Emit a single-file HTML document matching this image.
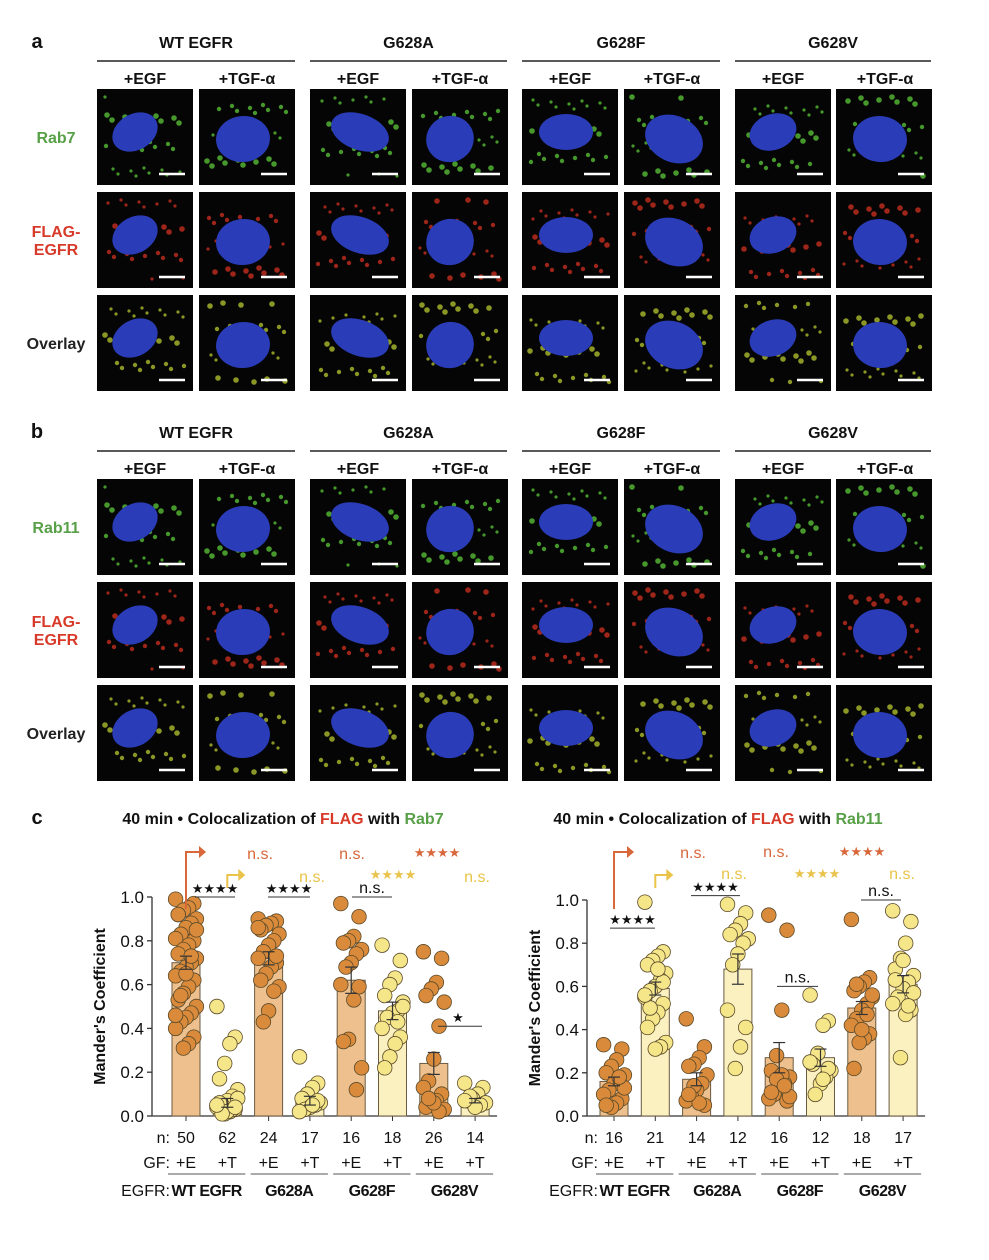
<!DOCTYPE html>
<html><head><meta charset="utf-8"><style>
body{margin:0;background:#fff;font-family:"Liberation Sans",Arial,sans-serif;}
#root{position:relative;width:989px;height:1260px;overflow:hidden;}
</style></head><body>
<div id="root">
<svg id="svg" width="989" height="1260" xmlns="http://www.w3.org/2000/svg" font-family="Liberation Sans, Arial, sans-serif"></svg>
</div>
<script>
// ---- chart data ----
const groups = ["WT EGFR","G628A","G628F","G628V"];
const gfLabels = ["+E","+T","+E","+T","+E","+T","+E","+T"];
const yTicks = [0.0,0.2,0.4,0.6,0.8,1.0];
const nRab7 = [50,62,24,17,16,18,26,14];
const meanRab7 = [0.70,0.06,0.72,0.07,0.62,0.48,0.24,0.07];
const semRab7 = [0.03,0.02,0.03,0.02,0.06,0.04,0.05,0.01];
const ptsRab7 = [
 [0.99,0.97,0.95,0.94,0.92,0.90,0.88,0.86,0.83,0.81,0.80,0.78,0.76,0.74,0.72,0.70,0.68,0.66,0.64,0.62,0.59,0.56,0.53,0.50,0.47,0.45,0.43,0.40,0.36,0.33,0.31,0.92,0.85,0.73,0.65,0.55,0.46],
 [0.50,0.36,0.33,0.24,0.17,0.12,0.09,0.07,0.05,0.04,0.03,0.02,0.01,0.06,0.08,0.03,0.02,0.01,0.05,0.04],
 [0.90,0.89,0.88,0.87,0.85,0.83,0.80,0.78,0.75,0.72,0.70,0.68,0.65,0.62,0.59,0.57,0.48,0.43,0.86,0.73],
 [0.27,0.15,0.13,0.10,0.08,0.06,0.05,0.04,0.03,0.02,0.07,0.05],
 [0.97,0.91,0.82,0.80,0.79,0.76,0.74,0.70,0.68,0.60,0.59,0.53,0.35,0.34,0.22,0.12],
 [0.78,0.71,0.63,0.60,0.55,0.52,0.48,0.47,0.45,0.40,0.36,0.33,0.27,0.22,0.50,0.43],
 [0.75,0.72,0.61,0.58,0.55,0.52,0.41,0.26,0.16,0.13,0.10,0.07,0.05,0.04,0.03,0.02,0.06,0.08],
 [0.15,0.13,0.10,0.08,0.07,0.06,0.05,0.04,0.09,0.07]
];
const nRab11 = [16,21,14,12,16,12,18,17];
const meanRab11 = [0.16,0.59,0.17,0.68,0.27,0.27,0.50,0.61];
const semRab11 = [0.02,0.03,0.03,0.07,0.07,0.04,0.03,0.04];
const ptsRab11 = [
 [0.33,0.31,0.26,0.23,0.20,0.19,0.16,0.15,0.12,0.10,0.08,0.06,0.04,0.05,0.13,0.18],
 [0.99,0.76,0.74,0.72,0.70,0.66,0.63,0.60,0.58,0.55,0.52,0.48,0.45,0.41,0.34,0.32,0.31,0.50,0.56,0.62,0.68],
 [0.45,0.32,0.27,0.24,0.23,0.19,0.15,0.12,0.09,0.07,0.05,0.06,0.14,0.10],
 [0.98,0.94,0.89,0.86,0.84,0.82,0.80,0.75,0.70,0.49,0.41,0.32,0.22],
 [0.93,0.86,0.49,0.28,0.21,0.18,0.15,0.13,0.10,0.08,0.07,0.19,0.17,0.11,0.09,0.14],
 [0.56,0.44,0.42,0.29,0.24,0.21,0.18,0.15,0.10,0.25,0.22,0.17],
 [0.91,0.64,0.62,0.60,0.58,0.55,0.52,0.49,0.45,0.42,0.38,0.36,0.34,0.22,0.56,0.47,0.40,0.61],
 [0.95,0.90,0.80,0.73,0.68,0.65,0.62,0.59,0.55,0.52,0.49,0.47,0.27,0.63,0.57,0.51,0.72]
];

const NS="http://www.w3.org/2000/svg";
const svg=document.getElementById('svg');
function mk(tag,attrs,parent){const e=document.createElementNS(NS,tag);for(const k in attrs)e.setAttribute(k,attrs[k]);(parent||svg).appendChild(e);return e;}
function txt(x,y,s,size,opts,parent){const t=mk('text',Object.assign({x:x,y:y,'font-size':size,'text-anchor':'middle',fill:'#111'},opts||{}),parent);t.textContent=s;return t;}

// ---- microscopy panels ----
const colX=[97,199,310,412,522,624,735,836];
const groupX=[[97,295],[310,507],[522,720],[735,931]];
function section(letter,top,rowLabels,rowTops){
  let t=txt(37,top,letter,20,{'font-weight':'bold'});
  
  
  groupX.forEach((g,i)=>{
    let h=txt((g[0]+g[1])/2,top,groups[i],16,{'font-weight':'bold'});
    
    
    let l=mk('line',{x1:g[0],x2:g[1],y1:top+13,y2:top+13,stroke:'#222','stroke-width':1.5});
    
    
    let a=txt(g[0]+48,top+36,'+EGF',16,{'font-weight':'bold'});
    
    
    let b=txt(g[0]+150,top+36,'+TGF-α',16,{'font-weight':'bold'});
    
    
  });
  rowLabels.forEach((r,ri)=>{
    const y=rowTops[ri]+48;
    if(r.length===1){
      let e=txt(56,y+6,r[0].s,16,{'font-weight':'bold',fill:r[0].c});
      
      
    } else {
      r.forEach((p,pi)=>{let e=txt(56,y-3+pi*18,p.s,16,{'font-weight':'bold',fill:p.c});
        
        });
    }
    colX.forEach((x,ci)=>{
      const g=mk('g',{});
      
      
      mk('rect',{x:x,y:rowTops[ri],width:96,height:96,fill:'#050505'},g);
      const seed=ci*7+ri*3;
      const col = ri===0?'#5cc83a':(ri===1?'#d03020':'#b8c830');
      // scattered puncta
      for(let k=0;k<28;k++){
        const px=x+8+((k*37+seed*13)%80), py=rowTops[ri]+8+((k*53+seed*29)%80);
        mk('circle',{cx:px,cy:py,r:1.6+(k%3)*0.6,fill:col,opacity:0.75},g);
      }
      const cx=x+44+((ci%3)-1)*6, cy=rowTops[ri]+46+((ci%2)?4:-3);
      mk('ellipse',{cx:cx,cy:cy,rx:24+(ci%3)*3,ry:18+(ci%2)*5,fill:'#2a3cb8',transform:`rotate(${(ci*25)%70-30} ${cx} ${cy})`},g);
      mk('line',{x1:x+62,x2:x+88,y1:rowTops[ri]+85,y2:rowTops[ri]+85,stroke:'#fff','stroke-width':2.5},g);
    });
  });
}
section('a',48,[[{s:'Rab7',c:'#58a048'}],[{s:'FLAG-',c:'#d83a2a'},{s:'EGFR',c:'#d83a2a'}],[{s:'Overlay',c:'#222'}]],[89,192,295]);
section('b',438,[[{s:'Rab11',c:'#58a048'}],[{s:'FLAG-',c:'#d83a2a'},{s:'EGFR',c:'#d83a2a'}],[{s:'Overlay',c:'#222'}]],[479,582,685]);

// ---- bar charts ----
const cL='#d98a3a', cY='#f5e68a', bL='#eec08e', bY='#fbf1c0', darkOr='#d8673a', lightY='#e9c34a';
function chart(opt){
  const g=mk('g',{});
  
  
  const y0=opt.y0,y1=opt.y1; const ys=v=>y0-(y0-y1)*v;
  const xs=i=>opt.x0+i*41.3;
  // axes
  const ax=mk('line',{x1:opt.ax,x2:opt.ax,y1:y1,y2:y0,stroke:'#333','stroke-width':1.3},g);
  
  
  const bx=mk('line',{x1:opt.ax,x2:xs(7)+22,y1:y0,y2:y0,stroke:'#333','stroke-width':1.3},g);
  
  
  yTicks.forEach(v=>{
    mk('line',{x1:opt.ax-5,x2:opt.ax,y1:ys(v),y2:ys(v),stroke:'#333','stroke-width':1.3},g);
    const t=txt(opt.ax-8,ys(v)+6,v.toFixed(1),17,{'text-anchor':'end'},g);
    
    
  });
  const yt=txt(0,0,"Mander's Coefficient",16,{'font-weight':'bold',transform:`translate(${opt.ax-47},${(y0+y1)/2}) rotate(-90)`},g);
  
  
  for(let i=0;i<8;i++){
    const x=xs(i), egf=i%2===0;
    mk('line',{x1:x,x2:x,y1:y0,y2:y0+5,stroke:'#333'},g);
    const bar=mk('rect',{x:x-14,y:ys(opt.mean[i]),width:28,height:y0-ys(opt.mean[i]),fill:egf?bL:bY,stroke:'#6a5a40','stroke-width':1},g);
    
    
    opt.pts[i].forEach((v,k)=>{
      const jit=((k*7)%9-4)*2.6;
      const p=mk('circle',{cx:x+jit,cy:ys(v),r:7.3,fill:egf?cL:cY,stroke:'#5a4a2a','stroke-width':0.8},g);
      
      
    });
    const m=opt.mean[i], s=opt.sem[i];
    mk('line',{x1:x,x2:x,y1:ys(m-s),y2:ys(m+s),stroke:'#333','stroke-width':1.2},g);
    mk('line',{x1:x-6,x2:x+6,y1:ys(m+s),y2:ys(m+s),stroke:'#333','stroke-width':1.2},g);
    mk('line',{x1:x-6,x2:x+6,y1:ys(m-s),y2:ys(m-s),stroke:'#333','stroke-width':1.2},g);
    const n=txt(x,y0+27,String(opt.n[i]),16,{},g);
    
    
    const gf=txt(x,y0+52,gfLabels[i],16,{},g);
    
    
  }
  [['n:',y0+27],['GF:',y0+52],['EGFR:',y0+80]].forEach(r=>{
    const t=txt(xs(0)-16,r[1],r[0],16,{'text-anchor':'end'},g);
    
    
  });
  for(let j=0;j<4;j++){
    mk('line',{x1:xs(2*j)-18,x2:xs(2*j+1)+18,y1:y0+58,y2:y0+58,stroke:'#555'},g);
    const t=txt((xs(2*j)+xs(2*j+1))/2,y0+80,groups[j],16,{'font-weight':'bold','letter-spacing':'-0.5'},g);
    
    
  }
  // title
  const ti=mk('text',{x:opt.tx,y:opt.ty,'font-size':16,'font-weight':'bold','text-anchor':'middle',fill:'#111'},g);
  ti.innerHTML=`40 min • Colocalization of <tspan fill="#d83a2a">FLAG</tspan> with <tspan fill="#58a048">${opt.rab}</tspan>`;
  
  
  // reference arrows
  const ar1=mk('path',{d:`M${xs(0)} ${opt.aTop+57} V${opt.aTop} H${xs(0)+14}`,stroke:darkOr,'stroke-width':2,fill:'none'},g);
  
  
  mk('path',{d:`M${xs(0)+13} ${opt.aTop-6} L${xs(0)+20} ${opt.aTop} L${xs(0)+13} ${opt.aTop+6}Z`,fill:darkOr},g);
  const ar2=mk('path',{d:`M${xs(1)} ${opt.aTop+36} V${opt.aTop+23} H${xs(1)+12}`,stroke:lightY,'stroke-width':2,fill:'none'},g);
  
  
  mk('path',{d:`M${xs(1)+11} ${opt.aTop+17} L${xs(1)+18} ${opt.aTop+23} L${xs(1)+11} ${opt.aTop+29}Z`,fill:lightY},g);
  opt.sig.forEach(s=>{
    const t=txt(s[0],s[1],s[2],s[2]==='n.s.'?16:13,{fill:s[3]},g);
    
    
  });
  opt.brackets.forEach(b=>{
    mk('line',{x1:b[0],x2:b[1],y1:ys(b[2]),y2:ys(b[2]),stroke:'#333','stroke-width':1},g);
    const t=txt(b[4]||(b[0]+b[1])/2,ys(b[2])-4,b[3],b[3]==='n.s.'?16:13,{},g);
    
    
  });
}
chart({name:'chart-rab7',rab:'Rab7',ax:152,x0:186,y0:1116,y1:897,n:nRab7,mean:meanRab7,sem:semRab7,pts:ptsRab7,tx:283,ty:824,aTop:852,
 sig:[[260,859,'n.s.',darkOr],[312,882,'n.s.',lightY],[352,859,'n.s.',darkOr],[393,879,'★★★★',lightY],[437,857,'★★★★',darkOr],[477,882,'n.s.',lightY]],
 brackets:[[195,235,1.0,'★★★★'],[268,310,1.0,'★★★★'],[352,392,1.0,'n.s.'],[438,482,0.41,'★',458]]});
chart({name:'chart-rab11',rab:'Rab11',ax:587,x0:614,y0:1116,y1:900,n:nRab11,mean:meanRab11,sem:semRab11,pts:ptsRab11,tx:718,ty:824,aTop:852,
 sig:[[693,858,'n.s.',darkOr],[734,879,'n.s.',lightY],[776,857,'n.s.',darkOr],[817,878,'★★★★',lightY],[862,856,'★★★★',darkOr],[902,879,'n.s.',lightY]],
 brackets:[[610,655,0.87,'★★★★'],[691,740,1.02,'★★★★'],[777,818,0.60,'n.s.'],[861,901,1.0,'n.s.']]});
const lc=txt(37,824,'c',20,{'font-weight':'bold'});


</script>
</body></html>
